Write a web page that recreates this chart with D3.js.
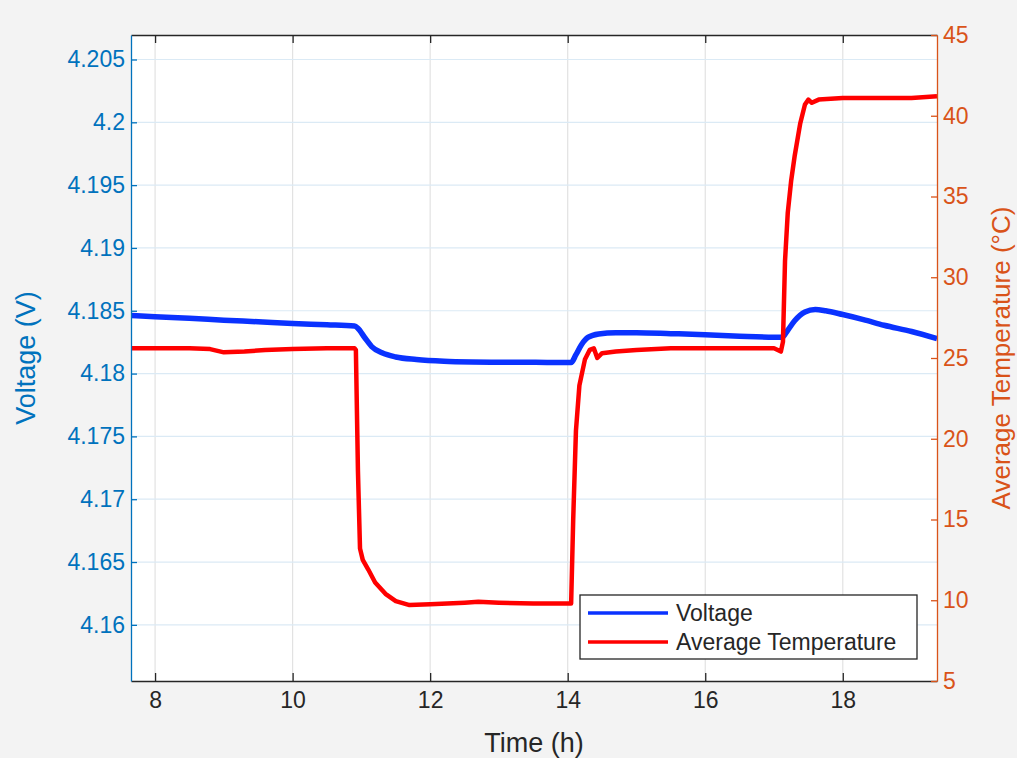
<!DOCTYPE html>
<html>
<head>
<meta charset="utf-8">
<script src="https://cdn.jsdelivr.net/npm/d3@7"></script>
<style>
  body { margin: 0; background: #f3f3f3; }
  text { font-family: Helvetica, Arial, "Liberation Sans", sans-serif; }
</style>
</head>
<body>
<div id="main"></div>
<script>
// voltage trace (time in h, volts)
const voltTime = [7.65, 8.0, 8.5, 9.0, 9.5, 10.0, 10.5, 10.9, 10.95, 11.05, 11.15, 11.3, 11.5, 11.8, 12.2, 12.6, 13.0, 13.5, 13.9, 14.05,
                  14.12, 14.2, 14.3, 14.45, 14.7, 15.0, 15.5, 16.0, 16.5, 17.0, 17.12, 17.2, 17.3, 17.45, 17.6, 17.75, 18.0, 18.3, 18.6, 19.0, 19.37];
const voltValues = [4.18462, 4.18452, 4.18440, 4.18425, 4.18412, 4.18398, 4.18388, 4.18378, 4.18360, 4.18285, 4.18215, 4.18165, 4.18132, 4.18112, 4.18098, 4.18092, 4.18090, 4.18090, 4.18088, 4.18088,
                    4.18150, 4.18230, 4.18290, 4.18315, 4.18325, 4.18325, 4.18318, 4.18310, 4.18298, 4.18290, 4.18290, 4.18345, 4.18420, 4.18490, 4.18510, 4.18500, 4.18470, 4.18430, 4.18385, 4.18335, 4.18278];

// average temperature trace (time in h, degC)
const tempTime = [7.65, 8.5, 8.8, 9.0, 9.3, 9.6, 10.0, 10.5, 10.9, 10.92, 10.95, 10.98, 11.02, 11.1, 11.2, 11.35, 11.5, 11.7, 12.0, 12.5, 12.7, 13.0, 13.5, 14.0, 14.05,
                  14.08, 14.12, 14.17, 14.25, 14.32, 14.38, 14.43, 14.5, 14.7, 15.0, 15.5, 16.0, 16.5, 17.0, 17.1,
                  17.13, 17.16, 17.2, 17.25, 17.3, 17.38, 17.45, 17.5, 17.55, 17.65, 18.0, 18.5, 19.0, 19.37];
const tempValues = [25.6, 25.6, 25.55, 25.35, 25.4, 25.5, 25.55, 25.6, 25.6, 25.5, 18.0, 13.2, 12.5, 11.9, 11.1, 10.4, 9.95, 9.7, 9.75, 9.85, 9.9, 9.85, 9.8, 9.8, 9.8,
                    15.0, 20.5, 23.3, 24.9, 25.5, 25.6, 25.0, 25.3, 25.4, 25.5, 25.6, 25.6, 25.6, 25.6, 25.4,
                    26.0, 31.0, 34.0, 36.0, 37.5, 39.5, 40.7, 41.0, 40.8, 41.0, 41.1, 41.1, 41.1, 41.2];

const xTicks = [8, 10, 12, 14, 16, 18];
const voltTicks = [4.16, 4.165, 4.17, 4.175, 4.18, 4.185, 4.19, 4.195, 4.2, 4.205];
const tempTicks = [5, 10, 15, 20, 25, 30, 35, 40, 45];
const legendLabels = ["Voltage", "Average Temperature"];

const ctx = {
    w: 1017,
    h: 758,
    left: 131,
    right: 937,
    top: 35,
    bottom: 681,
    LEFT_COLOR: "#0072bd",
    RIGHT_COLOR: "#d95319",
    AXIS_DARK: "#262626",
    VOLT_COLOR: "#0a32ff",
    TEMP_COLOR: "#ff0000",
};

const xScale = d3.scaleLinear().domain([7.65, 19.37]).range([ctx.left, ctx.right]);
const yVolt = d3.scaleLinear().domain([4.15553, 4.20695]).range([ctx.bottom, ctx.top]);
const yTemp = d3.scaleLinear().domain([5, 45]).range([ctx.bottom, ctx.top]);

function createViz(){
    let svgEl = d3.select("#main").append("svg")
        .attr("width", ctx.w)
        .attr("height", ctx.h);

    svgEl.append("rect").attr("width", ctx.w).attr("height", ctx.h).attr("fill", "#f3f3f3");
    svgEl.append("rect")
        .attr("x", ctx.left).attr("y", ctx.top)
        .attr("width", ctx.right - ctx.left).attr("height", ctx.bottom - ctx.top)
        .attr("fill", "white");

    // grid
    let grid = svgEl.append("g").attr("id", "grid");
    grid.selectAll("line.vx").data(xTicks).enter().append("line")
        .attr("x1", d => xScale(d)).attr("x2", d => xScale(d))
        .attr("y1", ctx.top).attr("y2", ctx.bottom)
        .attr("stroke", "#e2e2e2").attr("stroke-width", 1.2);
    grid.selectAll("line.hy").data(voltTicks).enter().append("line")
        .attr("x1", ctx.left).attr("x2", ctx.right)
        .attr("y1", d => yVolt(d)).attr("y2", d => yVolt(d))
        .attr("stroke", "#dbeaf5").attr("stroke-width", 1.2);

    // data lines
    let voltData = voltTime.map((t, i) => [t, voltValues[i]]);
    let tempData = tempTime.map((t, i) => [t, tempValues[i]]);

    svgEl.append("clipPath").attr("id", "plotclip").append("rect")
        .attr("x", ctx.left).attr("y", ctx.top)
        .attr("width", ctx.right - ctx.left).attr("height", ctx.bottom - ctx.top);

    let lines = svgEl.append("g").attr("id", "lines").attr("clip-path", "url(#plotclip)");
    lines.append("path")
        .datum(voltData)
        .attr("fill", "none")
        .attr("stroke", ctx.VOLT_COLOR)
        .attr("stroke-width", 5.5)
        .attr("stroke-linejoin", "round")
        .attr("d", d3.line().x(d => xScale(d[0])).y(d => yVolt(d[1])).curve(d3.curveMonotoneX));
    lines.append("path")
        .datum(tempData)
        .attr("fill", "none")
        .attr("stroke", ctx.TEMP_COLOR)
        .attr("stroke-width", 4.5)
        .attr("stroke-linejoin", "round")
        .attr("d", d3.line().x(d => xScale(d[0])).y(d => yTemp(d[1])));

    // axes
    let fmtV = d => String(+d.toFixed(3));

    let bottomAx = svgEl.append("g")
        .attr("transform", `translate(0,${ctx.bottom})`)
        .call(d3.axisBottom(xScale).tickValues(xTicks).tickSizeInner(-8).tickSizeOuter(0).tickPadding(11));
    let topAx = svgEl.append("g")
        .attr("transform", `translate(0,${ctx.top})`)
        .call(d3.axisTop(xScale).tickValues(xTicks).tickSizeInner(-8).tickSizeOuter(0).tickFormat(""));
    [bottomAx, topAx].forEach(function(g){
        g.select(".domain").attr("stroke", ctx.AXIS_DARK).attr("stroke-width", 1.3);
        g.selectAll(".tick line").attr("stroke", ctx.AXIS_DARK).attr("stroke-width", 1.3);
        g.selectAll(".tick text").attr("fill", ctx.AXIS_DARK).style("font-size", "23px");
    });

    let leftAx = svgEl.append("g")
        .attr("transform", `translate(${ctx.left},0)`)
        .call(d3.axisLeft(yVolt).tickValues(voltTicks).tickFormat(fmtV).tickSizeInner(-6).tickSizeOuter(0).tickPadding(6));
    leftAx.select(".domain").attr("stroke", ctx.LEFT_COLOR).attr("stroke-width", 1.3);
    leftAx.selectAll(".tick line").attr("stroke", ctx.LEFT_COLOR).attr("stroke-width", 1.3);
    leftAx.selectAll(".tick text").attr("fill", ctx.LEFT_COLOR).style("font-size", "23px");

    let rightAx = svgEl.append("g")
        .attr("transform", `translate(${ctx.right},0)`)
        .call(d3.axisRight(yTemp).tickValues(tempTicks).tickSizeInner(-6).tickSizeOuter(0).tickPadding(6));
    rightAx.select(".domain").attr("stroke", ctx.RIGHT_COLOR).attr("stroke-width", 1.3);
    rightAx.selectAll(".tick line").attr("stroke", ctx.RIGHT_COLOR).attr("stroke-width", 1.3);
    rightAx.selectAll(".tick text").attr("fill", ctx.RIGHT_COLOR).style("font-size", "23px");

    // axis titles
    svgEl.append("text")
        .attr("x", (ctx.left + ctx.right) / 2).attr("y", 752)
        .attr("text-anchor", "middle")
        .attr("fill", ctx.AXIS_DARK)
        .style("font-size", "27px")
        .text("Time (h)");
    svgEl.append("text")
        .attr("transform", `translate(35,${(ctx.top + ctx.bottom) / 2}) rotate(-90)`)
        .attr("text-anchor", "middle")
        .attr("fill", ctx.LEFT_COLOR)
        .style("font-size", "27px")
        .text("Voltage (V)");
    svgEl.append("text")
        .attr("transform", `translate(1010,${(ctx.top + ctx.bottom) / 2}) rotate(-90)`)
        .attr("text-anchor", "middle")
        .attr("fill", ctx.RIGHT_COLOR)
        .style("font-size", "26px")
        .text("Average Temperature (°C)");

    // legend
    let legend = svgEl.append("g").attr("id", "legend").attr("transform", "translate(580,595)");
    legend.append("rect")
        .attr("width", 337).attr("height", 64)
        .attr("fill", "white")
        .attr("stroke", ctx.AXIS_DARK).attr("stroke-width", 1.3);
    let colors = [ctx.VOLT_COLOR, ctx.TEMP_COLOR];
    let items = legend.selectAll("g.item").data(legendLabels).enter().append("g")
        .attr("transform", (d, i) => `translate(0,${18 + i * 29})`);
    items.append("line")
        .attr("x1", 8).attr("x2", 88)
        .attr("stroke", (d, i) => colors[i]).attr("stroke-width", 3.5);
    items.append("text")
        .attr("x", 96).attr("y", 8)
        .attr("fill", ctx.AXIS_DARK)
        .style("font-size", "23px")
        .text(d => d);
}

createViz();
</script>
</body>
</html>
